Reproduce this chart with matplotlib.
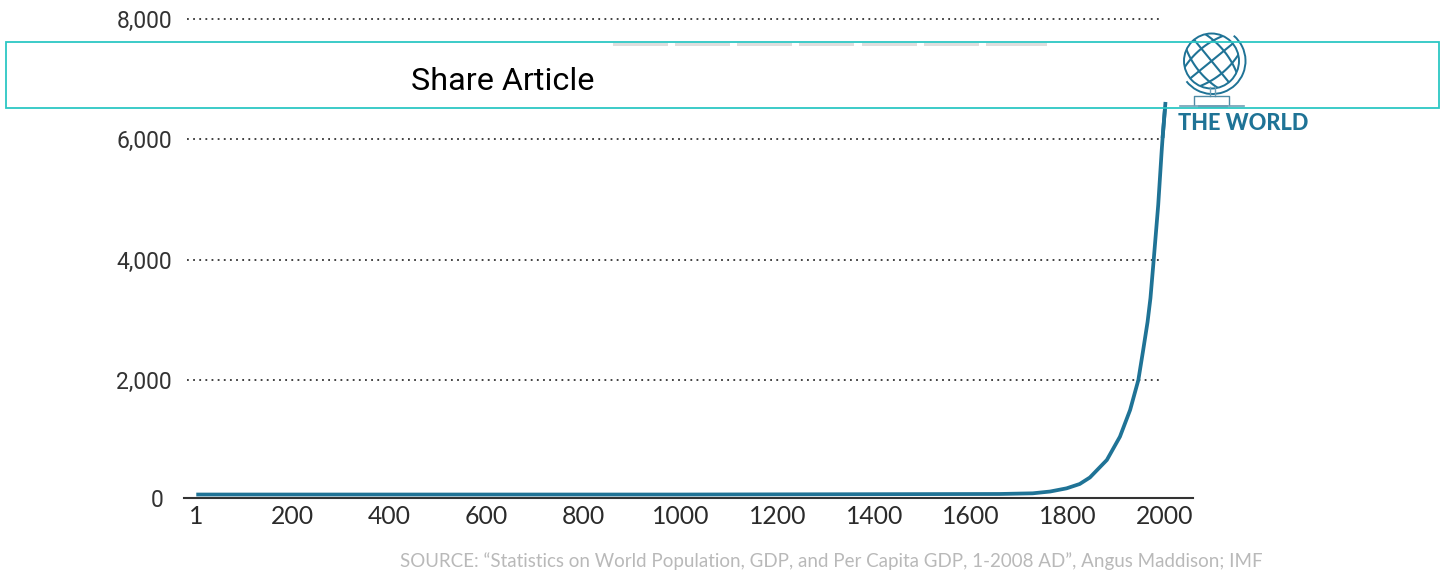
import numpy as np
import matplotlib
matplotlib.use('Agg')
import matplotlib.pyplot as plt
from matplotlib.patches import Rectangle, Circle, Arc
from matplotlib.transforms import ScaledTranslation

# ─── Data ────────────────────────────────────────────────────────────────────
years = [1, 1000, 1659, 1727, 1763, 1797, 1824, 1845, 1880, 1907, 1928, 1945,
         1955, 1964, 1970, 1977, 1986, 1993, 1995, 2001]
population = [96, 96, 105, 116, 146, 199, 271, 379, 670, 1057, 1501, 1999,
              2498, 2963, 3362, 4027, 4908, 5789, 6021, 6620]
x_ticks = [1, 200, 400, 600, 800, 1000, 1200, 1400, 1600, 1800, 2000]
y_ticks = [2000, 4000, 6000, 8000]
y_labels = ['2,000', '4,000', '6,000', '8,000']
source = 'SOURCE: “Statistics on World Population, GDP, and Per Capita GDP, 1-2008 AD”, Angus Maddison; IMF'

W, H = 1447, 571
BLUE = '#1f7396'
TEAL = '#2cc7c4'
PX_YEAR = 0.4846   # pixels per year
PX_UNIT = 0.06017  # pixels per million
X0 = 195.8         # pixel of year 0
Y0 = 500.3         # pixel of value 0

plt.rcParams['font.family'] = ['Lato', 'DejaVu Sans']

fig = plt.figure(figsize=(W / 100, H / 100), dpi=100, facecolor='white')

# axes box in pixels, x 184-1193, value 0 at y=500.3
ax = fig.add_axes([184 / W, 1 - Y0 / H, (1193 - 184) / W, (Y0 - 10) / H])
ax.set_xlim((184 - X0) / PX_YEAR, (1193 - X0) / PX_YEAR)
ax.set_ylim(0, (Y0 - 10) / PX_UNIT)
ax.set_facecolor('none')

ax.hlines(y_ticks, -18, 1994, color='#333333', lw=1.3, linestyles=(0, (1, 2.4)), zorder=1)
ax.plot(years, population, color=BLUE, lw=2.7, solid_capstyle='butt', solid_joinstyle='round', zorder=3)

for s in ['top', 'right', 'left']:
    ax.spines[s].set_visible(False)
ax.spines['bottom'].set_color('#333333')
ax.spines['bottom'].set_linewidth(1.5)
ax.spines['bottom'].set_position(('data', 38))  # the baseline sits a little above zero

ax.set_xticks(x_ticks)
ax.set_xticklabels([str(t) for t in x_ticks], fontsize=17.8, color='#2b2b2b')
ax.set_yticks([0] + y_ticks)
ax.set_yticklabels(['0'] + y_labels, fontsize=16.5, color='#333333', family='Roboto')
ax.tick_params(axis='both', length=0)
ax.tick_params(axis='x', pad=5)
ax.tick_params(axis='y', pad=8.6)
zero = ax.get_yticklabels()[0]
zero.set_transform(zero.get_transform() + ScaledTranslation(-0.09, 0.02, fig.dpi_scale_trans))

# ─── Overlay in pixel coordinates (banner, logo, source) ─────────────────────
ov = fig.add_axes([0, 0, 1, 1])
ov.set_xlim(0, W)
ov.set_ylim(H, 0)
ov.axis('off')
ov.set_facecolor('none')

ov.add_patch(Rectangle((6, 42), 1433, 66, fc='white', ec='none', zorder=2))
for x0, w in zip([613, 675, 737, 799, 862, 924, 986], [55, 55, 55, 55, 55, 55, 61]):
    ov.add_patch(Rectangle((x0, 43), w, 3, fc='#dedede', ec='none', zorder=3))
ov.text(411, 81, 'Share Article', family='Roboto', fontsize=23.3, color='black', ha='left', va='center', zorder=4)

# curve tip shows through the banner
cx = X0 + PX_YEAR * np.array(years[-2:], dtype=float)
cy = Y0 - PX_UNIT * np.array(population[-2:], dtype=float)
ov.plot(cx, cy, color=BLUE, lw=2.7, solid_capstyle='butt', zorder=5)

# globe logo
gx, gy, gr = 1211.5, 61, 27.5
ball = Circle((gx, gy), gr, fc='none', ec=BLUE, lw=1.4, zorder=5)
ov.add_patch(ball)
v = np.linspace(-32, 32, 40)
for ang in [np.pi / 4 + 0.1, -np.pi / 4 + 0.1]:
    for off in [-16, 0, 16]:
        u = off * (1 - 0.4 * (v / 32) ** 2)
        xs = gx + u * np.cos(ang) - v * np.sin(ang)
        ys = gy + u * np.sin(ang) + v * np.cos(ang)
        line, = ov.plot(xs, ys, color=BLUE, lw=1.5, zorder=5)
        line.set_clip_path(ball)
ov.add_patch(Arc((gx + 1, gy), 66, 66, angle=0, theta1=-50, theta2=142, ec=BLUE, lw=1.4, zorder=5))
ov.plot([1210, 1210], [87, 96], color='#6f9fb5', lw=1, zorder=5)
ov.plot([1215, 1215], [87, 96], color='#6f9fb5', lw=1, zorder=5)
ov.plot([1194, 1194, 1229, 1229], [105, 96, 96, 105], color='#4f8aa5', lw=1, zorder=5)
ov.plot([1180, 1244], [105.5, 105.5], color='#6f9fb5', lw=1.2, zorder=5)
ov.plot([1199, 1226], [105.5, 105.5], color='#6f9fb5', lw=2, zorder=5)

ov.add_patch(Rectangle((6, 42), 1433, 66, fc='none', ec=TEAL, lw=1.3, zorder=6))

ov.text(1178, 124, 'THE WORLD', fontsize=15.7, fontweight='black', color=BLUE, ha='left', va='center', zorder=5)
ov.text(400, 561, source, fontsize=13.5, color='#b9b9b9', ha='left', va='center', zorder=5)

fig.savefig('out.png', dpi=100, facecolor='white')
